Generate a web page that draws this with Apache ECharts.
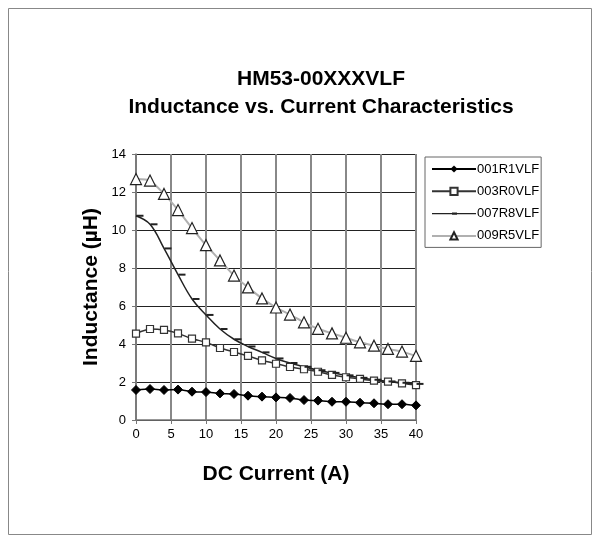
<!DOCTYPE html>
<html>
<head>
<meta charset="utf-8">
<script src="https://cdn.jsdelivr.net/npm/echarts@6/dist/echarts.min.js"></script>
<style>html,body{margin:0;padding:0;background:#fff}#c{width:600px;height:543px}</style>
</head>
<body>
<div id="c"></div>
<script>
var current = [0,2,4,6,8,10,12,14,16,18,20,22,24,26,28,30,32,34,36,38,40];
var s001R1 = [1.58,1.63,1.58,1.6,1.49,1.47,1.4,1.37,1.28,1.23,1.19,1.16,1.05,1.02,0.96,0.96,0.91,0.88,0.83,0.83,0.77];
var s003R0 = [4.55,4.79,4.74,4.56,4.28,4.09,3.79,3.58,3.37,3.14,2.96,2.79,2.67,2.54,2.37,2.25,2.16,2.07,2.02,1.93,1.84];
var s007R8 = [10.75,10.3,9.03,7.65,6.37,5.53,4.79,4.25,3.87,3.56,3.24,3.0,2.8,2.62,2.48,2.35,2.22,2.12,2.03,1.96,1.9];
var s009R5 = [12.68,12.6,11.9,11.05,10.1,9.2,8.4,7.6,6.98,6.4,5.92,5.55,5.14,4.8,4.56,4.33,4.09,3.91,3.74,3.6,3.37];
var names = ['001R1VLF','003R0VLF','007R8VLF','009R5VLF'];
var xTicks = {min:0, max:40, interval:5};
var yTicks = {min:0, max:14, interval:2};

function pairs(arr){ return current.map(function(x,i){ return [x, arr[i]]; }); }
var font = '"Liberation Sans", Arial, sans-serif';
var chart = echarts.init(document.getElementById('c'));
chart.setOption({
  animation:false,
  backgroundColor:'#fff',
  graphic:[{type:'rect', shape:{x:8.5,y:8.5,width:583,height:526}, style:{fill:'none', stroke:'#888', lineWidth:1}, silent:true}],
  title:{
    text:'HM53-00XXXVLF\nInductance vs. Current Characteristics',
    left:316, top:60, textAlign:'center',
    textStyle:{fontFamily:font, fontSize:21, fontWeight:'bold', color:'#000', lineHeight:28}
  },
  legend:{
    orient:'vertical', left:425, top:157, itemWidth:44, itemHeight:9, itemGap:9.3,
    padding:[5.5,2,5,6], borderColor:'#666', borderWidth:1,
    textStyle:{fontFamily:font, fontSize:13, color:'#000', padding:[0,0,0,-4]},
    data:[
      {name:names[0]},
      {name:names[1]},
      {name:names[2], icon:'path://M0,4 L44,4 L44,5.2 L0,5.2 Z M20,3.5 L25,3.5 L25,5.7 L20,5.7 Z'},
      {name:names[3]}
    ]
  },
  grid:{left:136, right:184, top:154, bottom:123, containLabel:false},
  xAxis:{
    type:'value', min:xTicks.min, max:xTicks.max, interval:xTicks.interval,
    name:'DC Current (A)', nameLocation:'middle', nameGap:44,
    nameTextStyle:{fontFamily:font, fontSize:21, fontWeight:'bold', color:'#000'},
    axisLine:{lineStyle:{color:'#777', width:1.5}},
    axisTick:{show:true, length:4, lineStyle:{color:'#777'}},
    axisLabel:{fontFamily:font, fontSize:13, color:'#000', margin:8},
    splitLine:{show:true, lineStyle:{color:'#888', width:2}}
  },
  yAxis:{
    type:'value', min:yTicks.min, max:yTicks.max, interval:yTicks.interval,
    name:'Inductance (µH)', nameLocation:'middle', nameGap:34,
    nameTextStyle:{fontFamily:font, fontSize:21, fontWeight:'bold', color:'#000'},
    axisLine:{show:true, lineStyle:{color:'#777', width:1.5}},
    axisTick:{show:true, length:4, lineStyle:{color:'#777'}},
    axisLabel:{fontFamily:font, fontSize:13, color:'#000', margin:10},
    splitLine:{show:true, lineStyle:{color:'#222', width:1}}
  },
  series:[
    {name:names[0], type:'line', data:pairs(s001R1), symbol:'diamond', symbolSize:9,
     lineStyle:{color:'#000', width:1.5}, itemStyle:{color:'#000', borderColor:'#000'}, smooth:0.2},
    {name:names[1], type:'line', data:pairs(s003R0), symbol:'rect', symbolSize:7,
     lineStyle:{color:'#333', width:1.5}, itemStyle:{color:'#fff', borderColor:'#333', borderWidth:1.2}, smooth:0.2},
    {name:names[2], type:'line', data:pairs(s007R8), symbol:'rect', symbolSize:[7,2], symbolOffset:[4,0],
     lineStyle:{color:'#222', width:1.5}, itemStyle:{color:'#222'}, smooth:0.4},
    {name:names[3], type:'line', data:pairs(s009R5), symbol:'triangle', symbolSize:11,
     lineStyle:{color:'#b0b0b0', width:2}, itemStyle:{color:'#fff', borderColor:'#222', borderWidth:1.2}, smooth:0.2}
  ]
});
</script>
</body>
</html>
